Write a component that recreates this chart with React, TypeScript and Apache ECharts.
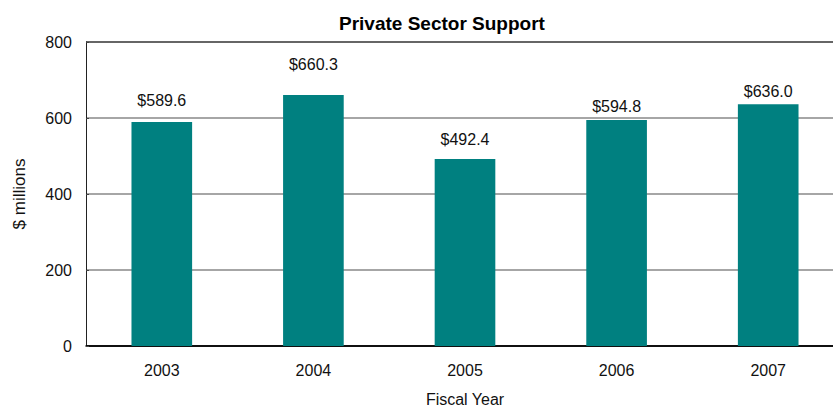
import React, { useEffect, useRef } from "react";
import * as echarts from "echarts";

const categories = ["2003", "2004", "2005", "2006", "2007"];
const values = [589.6, 660.3, 492.4, 594.8, 636.0];
const labelGaps = [13, 23, 11, 5, 5];
const yTicks = [0, 200, 400, 600, 800];

export default function App() {
  const ref = useRef<HTMLDivElement>(null);
  useEffect(() => {
    const chart = echarts.init(ref.current!, null, { renderer: "svg" });
    const font = "'Liberation Sans', Arial, sans-serif";
    chart.setOption({
      animation: false,
      textStyle: { fontFamily: font },
      title: {
        text: "Private Sector Support",
        left: 334,
        top: 9,
        textStyle: { fontFamily: font, fontSize: 19, fontWeight: "bold", color: "#000" },
      },
      grid: {
        left: 86,
        width: 758,
        top: 42,
        bottom: 65,
        outerBoundsMode: "none",
        containLabel: false,
      },
      xAxis: {
        type: "category",
        data: categories,
        name: "Fiscal Year",
        nameLocation: "middle",
        nameGap: 45,
        nameTextStyle: { fontFamily: font, fontSize: 16, color: "#111" },
        axisLine: { lineStyle: { color: "#000", width: 1.5 } },
        axisTick: { inside: true, length: 5, lineStyle: { color: "#666" } },
        axisLabel: { fontFamily: font, fontSize: 16, color: "#111", margin: 16 },
      },
      yAxis: {
        type: "value",
        min: yTicks[0],
        max: yTicks[yTicks.length - 1],
        interval: 200,
        name: "$ millions",
        nameLocation: "middle",
        nameRotate: 90,
        nameGap: 58,
        nameTextStyle: { fontFamily: font, fontSize: 17, color: "#111" },
        axisLine: { show: true, lineStyle: { color: "#222", width: 1 } },
        axisTick: { show: true, inside: true, length: 3, lineStyle: { color: "#444" } },
        axisLabel: { fontFamily: font, fontSize: 16, color: "#111", margin: 14 },
        splitLine: {
          show: true,
          lineStyle: { color: ["#000", "#888", "#888", "#888", "#333"], width: 1.5 },
        },
      },
      series: [
        {
          type: "bar",
          barWidth: "40%",
          itemStyle: { color: "#008080" },
          data: values.map((v, i) => ({
            value: v,
            label: {
              show: true,
              position: "top",
              distance: labelGaps[i],
              formatter: "$" + v.toFixed(1),
              fontFamily: font,
              fontSize: 16,
              color: "#111",
            },
          })),
        },
      ],
    });
    return () => chart.dispose();
  }, []);
  return (
    <div
      ref={ref}
      style={{ position: "absolute", left: 0, top: 0, width: 833, height: 411 }}
    />
  );
}
